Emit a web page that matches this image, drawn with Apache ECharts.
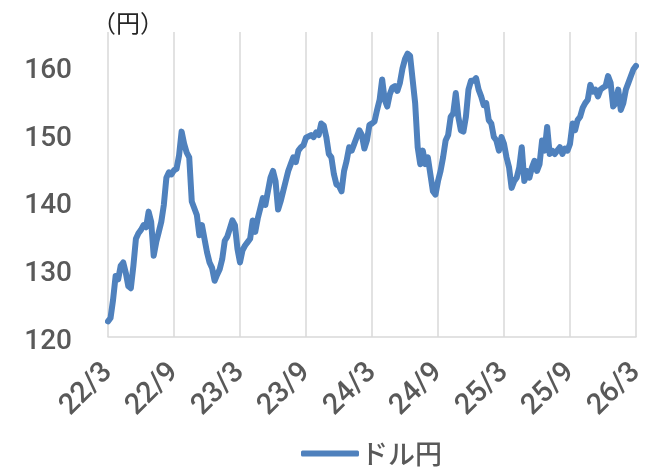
<!DOCTYPE html>
<html>
<head>
<meta charset="utf-8">
<script src="https://cdn.jsdelivr.net/npm/echarts@6/dist/echarts.min.js"></script>
<style>
  html, body { margin: 0; padding: 0; background: #fff; }
  #chart { width: 660px; height: 468px; }
</style>
</head>
<body>
<div id="chart"></div>
<script>
// USD/JPY, weekly closes from March 2022 to March 2026
const tickLabels = ['22/3', '22/9', '23/3', '23/9', '24/3', '24/9', '25/3', '25/9', '26/3'];
const weeksPerTick = 26;

const usdJpy2022 = [
  122.3, 122.8, 125.5, 129.0, 128.5, 130.5, 131.0, 129.5, 127.5, 127.2,
  130.5, 134.5, 135.3, 135.8, 136.5, 136.2, 138.5, 137.0, 132.0, 134.0,
  135.5, 137.0, 139.5, 143.5, 144.3, 144.0, 144.6, 144.8, 146.8, 150.3,
  148.5, 147.2, 146.5, 140.0, 139.0, 138.0, 135.0, 136.5, 134.5, 132.5,
  131.0, 130.2
];
const usdJpy2023 = [
  128.3, 129.2, 130.0, 131.5, 134.2, 134.8, 136.0, 137.2, 136.5, 133.0,
  131.0, 132.8, 133.5, 134.0, 134.5, 137.2, 135.5, 137.5, 139.0, 140.5,
  139.5, 141.5, 143.5, 144.5, 143.0, 138.8, 140.0, 141.5, 143.0, 144.5,
  145.5, 146.5, 145.8, 147.5, 148.0, 148.3, 149.4, 149.6, 149.8, 149.5,
  150.2, 149.8, 151.5, 151.2, 149.5, 147.0, 146.5, 144.0, 142.5, 142.3,
  141.5
];
const usdJpy2024 = [
  144.5, 146.0, 148.0, 147.5, 148.5, 149.5, 150.5, 149.8, 147.8, 149.0,
  151.3, 151.5, 151.8, 153.5, 155.0, 158.0, 155.0, 154.0, 155.8, 156.8,
  157.0, 156.3, 157.5, 159.6, 161.0, 161.8, 161.5, 158.0, 154.5, 148.0,
  145.5, 147.5, 145.5, 146.5, 144.0, 141.5, 141.0, 143.0, 144.5, 146.5,
  149.0, 149.8, 152.5, 153.0, 156.0, 152.5, 150.5, 150.3, 152.5, 156.5,
  157.8, 157.8
];
const usdJpy2025 = [
  158.2, 156.5, 155.5, 154.2, 154.5, 152.0, 151.5, 149.5, 149.0, 147.5,
  149.5, 148.5, 146.5, 145.0, 142.0, 143.0, 143.5, 145.0, 148.0, 143.0,
  144.5, 143.5, 145.0, 146.0, 144.5, 145.5, 149.0, 147.5, 151.0, 147.0,
  147.5, 147.0, 147.5, 148.0, 147.0, 147.8, 147.5, 148.5, 151.5, 150.5,
  152.0, 152.5, 153.8, 154.5, 155.0, 157.2, 156.2, 156.5, 155.5, 156.5,
  156.8, 157.0
];
const usdJpy2026 = [
  158.5, 157.5, 154.0, 154.5, 156.5, 153.5, 154.5, 156.5, 157.5, 158.5,
  159.5, 160.0
];

const values = [].concat(usdJpy2022, usdJpy2023, usdJpy2024, usdJpy2025, usdJpy2026);
const seriesName = 'ドル円';
const unitLabel = '（円）';

const chart = echarts.init(document.getElementById('chart'), null, { renderer: 'canvas' });
const gray = '#595959';
const gridColor = '#D9D9D9';

chart.setOption({
  animation: false,
  backgroundColor: '#ffffff',
  title: {
    text: unitLabel,
    left: 87,
    top: 6,
    textStyle: { fontFamily: 'Noto Sans CJK JP', fontSize: 24, fontWeight: 'normal', color: '#262626' }
  },
  grid: { left: 108, right: 24, top: 32, bottom: 131, containLabel: false },
  xAxis: {
    type: 'value',
    min: 0,
    max: weeksPerTick * (tickLabels.length - 1),
    interval: weeksPerTick,
    axisLine: { show: true, lineStyle: { color: gridColor, width: 1.5 } },
    axisTick: { show: false },
    splitLine: { show: true, lineStyle: { color: gridColor, width: 1.5 } },
    axisLabel: {
      rotate: 45,
      margin: 31,
      color: gray,
      fontFamily: 'Roboto',
      fontWeight: 500,
      fontSize: 29,
      formatter: v => tickLabels[Math.round(v / weeksPerTick)] || ''
    }
  },
  yAxis: {
    type: 'value',
    min: 120,
    max: 165,
    interval: 10,
    axisLine: { show: false },
    axisTick: { show: false },
    splitLine: { show: false },
    axisLabel: {
      margin: 36,
      showMaxLabel: false,
      formatter: v => (v % 10 === 0 ? '{n|' + v + '}' : ''),
      rich: {
        n: {
          color: gray,
          fontFamily: 'Roboto',
          fontWeight: 500,
          fontSize: 28,
          padding: [10, 0, 0, 0]
        }
      }
    }
  },
  legend: {
    data: [seriesName],
    left: 296,
    top: 435,
    icon: 'roundRect',
    itemWidth: 58,
    itemHeight: 6,
    itemGap: 10,
    textStyle: { color: gray, fontFamily: 'Noto Sans CJK JP', fontWeight: 500, fontSize: 27, padding: [0, 0, 0, -3] }
  },
  series: [{
    name: seriesName,
    type: 'line',
    data: values.map((v, i) => [i, v]),
    showSymbol: false,
    symbol: 'none',
    lineStyle: { color: '#4F81BD', width: 6, join: 'round', cap: 'round' },
    itemStyle: { color: '#4F81BD' }
  }]
});
</script>
</body>
</html>
